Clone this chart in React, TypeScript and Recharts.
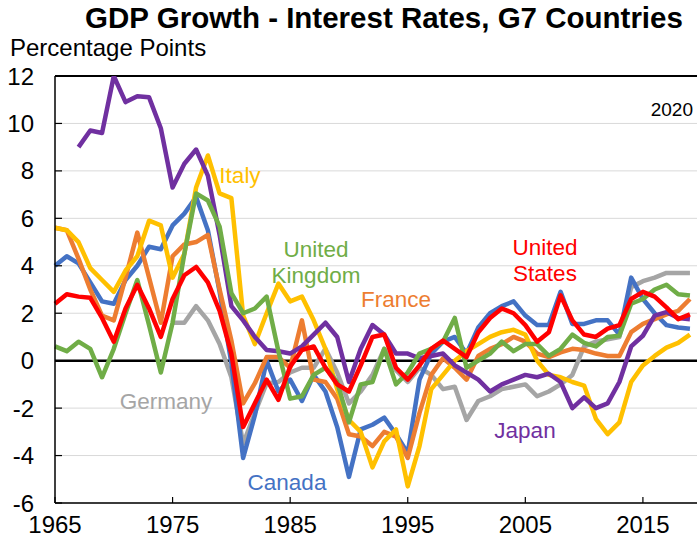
import React from 'react';
import { LineChart, Line, XAxis, YAxis, CartesianGrid, ReferenceLine } from 'recharts';

// GDP growth minus interest rates, G7, percentage points
const YEARS = [
  1965, 1966, 1967, 1968, 1969, 1970, 1971, 1972, 1973, 1974,
  1975, 1976, 1977, 1978, 1979, 1980, 1981, 1982, 1983, 1984,
  1985, 1986, 1987, 1988, 1989, 1990, 1991, 1992, 1993, 1994,
  1995, 1996, 1997, 1998, 1999, 2000, 2001, 2002, 2003, 2004,
  2005, 2006, 2007, 2008, 2009, 2010, 2011, 2012, 2013, 2014,
  2015, 2016, 2017, 2018, 2019,
];

const CANADA = [
  4.0, 4.4, 4.1, 3.3, 2.5, 2.4, 3.4, 4.0, 4.8, 4.7,
  5.7, 6.2, 6.9, 5.5, 2.9, -0.1, -4.1, -2.3, 0.0, -1.3,
  -0.8, -1.7, -0.6, -1.3, -2.8, -4.9, -2.9, -2.7, -2.4, -3.1,
  -3.9, -0.8, 0.3, 0.8, 1.0, 0.3, 1.4, 2.0, 2.3, 2.5,
  1.9, 1.5, 1.5, 2.9, 1.55, 1.55, 1.7, 1.7, 1.1, 3.5,
  2.6, 2.0, 1.5, 1.4, 1.35,
];

const FRANCE = [
  5.6, 5.5, 4.3, 3.0, 1.9, 1.7, 3.5, 5.4, 3.5, 1.6,
  4.4, 4.9, 5.0, 5.3, 3.0, 0.85, -1.8, -0.95, 0.15, 0.15,
  -0.3, 1.7, -0.8, -0.9, -1.6, -3.1, -3.2, -3.6, -3.0, -3.2,
  -4.1, -2.2, -0.6, 0.1, -0.3, -0.8, 0.2, 0.5, 0.7, 1.0,
  0.8, 0.3, 0.15, 0.35, 0.5, 0.45, 0.3, 0.2, 0.2, 1.2,
  1.55, 1.75, 1.95, 2.1, 2.6,
];

const GERMANY = [
  null, null, null, null, null, null, null, null, null, null,
  1.6, 1.6, 2.3, 1.7, 0.7, -0.7, -3.5, -2.2, -0.95, -0.9,
  -0.5, -0.3, -0.3, 0.5, -0.5, -1.8, -1.3, -0.6, 0.5, -0.4,
  -0.9, -0.3, -0.6, -1.2, -1.1, -2.5, -1.7, -1.5, -1.2, -1.1,
  -1.0, -1.5, -1.3, -1.0, -0.6, 0.6, 0.8, 0.9, 1.0, 3.1,
  3.35, 3.5, 3.7, 3.7, 3.7,
];

const ITALY = [
  5.6, 5.5, 5.0, 3.9, 3.4, 2.9, 3.8, 4.4, 5.9, 5.7,
  3.5, 4.5, 7.3, 8.65, 7.05, 6.85, 1.9, 0.7, 2.0, 3.25,
  2.5, 2.7, 1.7, 0.5, -1.2, -2.5, -3.0, -4.5, -3.4, -2.9,
  -5.3, -3.6, -1.2, -0.6, 0.0, 0.4, 0.7, 1.0, 1.2, 1.3,
  1.1, 0.0, -0.6, -0.7, -0.9, -1.05, -2.45, -3.1, -2.6, -0.9,
  -0.2, 0.2, 0.55, 0.75, 1.1,
];

const JAPAN = [
  null, null, 9.0, 9.7, 9.6, 12.0, 10.9, 11.15, 11.1, 9.8,
  7.3, 8.3, 8.9, 7.8, 5.3, 2.3, 1.7, 1.0, 0.45, 0.4,
  0.3, 0.6, 1.1, 1.6, 1.0, -0.9, 0.5, 1.5, 1.1, 0.3,
  0.3, 0.1, 0.2, 0.3, -0.2, -0.5, -0.8, -1.3, -1.0, -0.8,
  -0.6, -0.7, -0.55, -0.9, -2.0, -1.55, -2.0, -1.8, -0.9, 0.6,
  1.05, 1.9, 2.05, 1.8, 1.75,
];

const UK = [
  0.6, 0.4, 0.8, 0.5, -0.7, 0.5, 2.0, 3.4, 1.5, -0.5,
  1.6, 4.5, 7.05, 6.75, 5.65, 2.85, 2.0, 2.2, 2.7, 0.4,
  -1.6, -1.5, -0.6, -0.3, -0.9, -2.6, -1.0, -0.9, 0.5, -1.0,
  -0.5, 0.3, 0.5, 0.8, 1.8, -0.3, 0.0, 0.3, 0.8, 0.4,
  0.7, 0.7, 0.2, 0.5, 1.1, 0.75, 0.6, 1.0, 1.05, 2.4,
  2.6, 3.0, 3.2, 2.8, 2.75,
];

const US = [
  2.4, 2.8, 2.7, 2.65, 1.8, 0.8, 2.2, 3.2, 2.2, 1.0,
  2.6, 3.6, 3.95, 3.3, 2.1, 0.3, -2.8, -1.8, -0.8, -1.65,
  -0.25, 0.45, 0.6, -0.3, -1.0, -1.3, -0.2, 1.0, 1.1, -0.3,
  -0.8, -0.2, 0.5, 0.85, 0.5, 0.15, 1.2, 1.8, 2.2, 2.0,
  1.5, 0.8, 1.2, 2.75, 1.7, 1.1, 1.0, 1.35, 1.5, 2.6,
  2.9, 2.7, 2.25, 1.75, 1.95,
];

const X_TICKS = [1965, 1975, 1985, 1995, 2005, 2015];
const Y_TICKS = [-6, -4, -2, 0, 2, 4, 6, 8, 10, 12];

// drawing order: later ones sit on top
const SERIES = [
  { key: 'germany', name: 'Germany', color: '#A5A5A5', values: GERMANY },
  { key: 'canada', name: 'Canada', color: '#4472C4', values: CANADA },
  { key: 'france', name: 'France', color: '#ED7D31', values: FRANCE },
  { key: 'italy', name: 'Italy', color: '#FFC000', values: ITALY },
  { key: 'japan', name: 'Japan', color: '#7030A0', values: JAPAN },
  { key: 'uk', name: 'United Kingdom', color: '#70AD47', values: UK },
  { key: 'us', name: 'United States', color: '#FF0000', values: US },
];

const FONT = '"Liberation Sans", Arial, sans-serif';

const chartData = YEARS.map((year, i) => {
  const row: Record<string, number | null> = { year };
  SERIES.forEach((s) => {
    row[s.key] = s.values[i];
  });
  return row;
});

// In-plot series labels, placed like the original
const LABELS = [
  { lines: ['Italy'], x: 240, y: 183, color: '#FFC000' },
  { lines: ['United', 'Kingdom'], x: 316, y: 257, color: '#70AD47' },
  { lines: ['France'], x: 396, y: 307, color: '#ED7D31' },
  { lines: ['United', 'States'], x: 545, y: 255, color: '#FF0000' },
  { lines: ['Germany'], x: 166, y: 409, color: '#A5A5A5' },
  { lines: ['Japan'], x: 525, y: 438, color: '#7030A0' },
  { lines: ['Canada'], x: 287, y: 490, color: '#4472C4' },
];

export default function App() {
  return (
    <div style={{ position: 'relative', width: 699, height: 540, background: '#fff' }}>
      <style>{'body{margin:0;}'}</style>
      <LineChart
        width={699}
        height={540}
        data={chartData}
        margin={{ top: 76, right: 2, bottom: 0, left: 0 }}
      >
        <CartesianGrid vertical={false} stroke="#D9D9D9" strokeWidth={1} />
        <XAxis
          dataKey="year"
          type="number"
          domain={[1965, 2019.6]}
          ticks={X_TICKS}
          height={37}
          tickSize={-6}
          tickMargin={19}
          axisLine={{ stroke: '#000', strokeWidth: 1.5 }}
          tickLine={{ stroke: '#000', strokeWidth: 1.2 }}
          tick={{ fontSize: 24, fill: '#000', fontFamily: FONT }}
        />
        <YAxis
          type="number"
          domain={[-6, 12]}
          ticks={Y_TICKS}
          width={55}
          tickSize={-7}
          tickMargin={28}
          interval={0}
          allowDataOverflow
          axisLine={{ stroke: '#000', strokeWidth: 1.5 }}
          tickLine={{ stroke: '#000', strokeWidth: 1.2 }}
          tick={{ fontSize: 24, fill: '#000', fontFamily: FONT }}
        />
        <ReferenceLine y={12} stroke="#000" strokeWidth={2} />
        <ReferenceLine y={0} stroke="#000" strokeWidth={2.5} />
        {SERIES.map((s) => (
          <Line
            key={s.key}
            type="linear"
            dataKey={s.key}
            name={s.name}
            stroke={s.color}
            strokeWidth={4.5}
            strokeLinejoin="round"
            dot={false}
            activeDot={false}
            isAnimationActive={false}
          />
        ))}
      </LineChart>
      <svg
        width={699}
        height={540}
        style={{ position: 'absolute', left: 0, top: 0, pointerEvents: 'none' }}
        fontFamily={FONT}
      >
        <text x={384} y={28} textAnchor="middle" fontSize={29.5} fontWeight="bold" fill="#000">
          GDP Growth - Interest Rates, G7 Countries
        </text>
        <text x={10} y={56} fontSize={24} fill="#000">
          Percentage Points
        </text>
        <text x={693} y={116} textAnchor="end" fontSize={19} fill="#000">
          2020
        </text>
        {LABELS.map((l) => (
          <text key={l.lines.join(' ')} x={l.x} y={l.y} textAnchor="middle" fontSize={22.5} fill={l.color}>
            {l.lines.map((line, i) => (
              <tspan key={line} x={l.x} dy={i === 0 ? 0 : 26}>
                {line}
              </tspan>
            ))}
          </text>
        ))}
      </svg>
    </div>
  );
}
